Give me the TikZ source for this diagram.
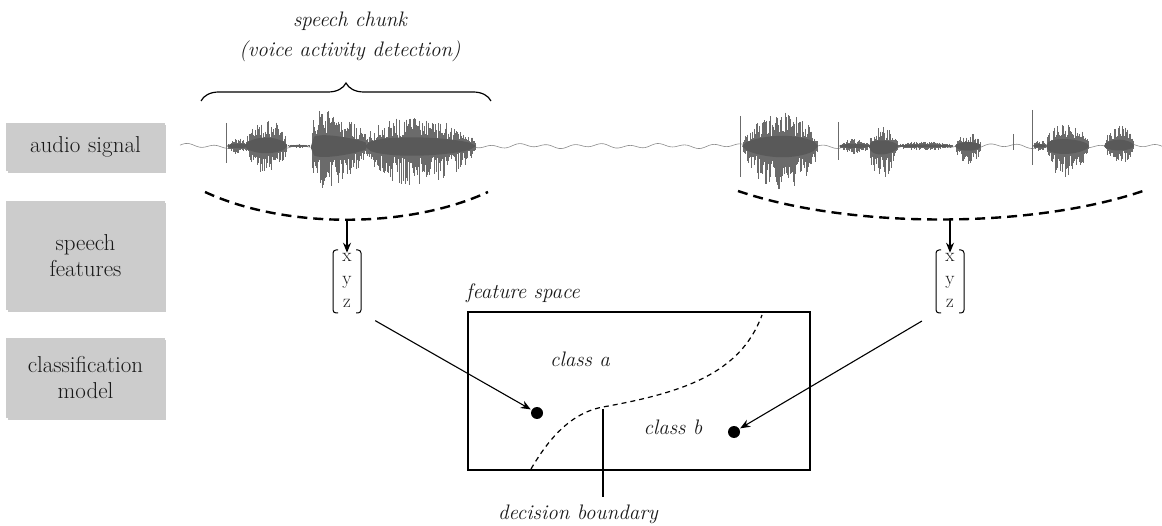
\documentclass[tikz,border=0pt]{standalone}
\usepackage{fontspec}
\usetikzlibrary{arrows.meta,shadows,calc,decorations.pathreplacing}
\newcommand\wburst[5]{%
  \pgfmathtruncatemacro\nn{(#2-#1)/1.0}%
  \foreach \i in {0,...,\nn}{%
    \pgfmathsetmacro\xx{#1+1.0*\i}%
    \pgfmathsetmacro\tt{(\i/\nn)^#5}%
    \pgfmathsetmacro\ss{sqrt(abs(sin(180*\tt)))}%
    \pgfmathsetmacro\uu{#3*\ss*(0.3+0.7*rnd)}%
    \pgfmathsetmacro\dd{#4*\ss*(0.3+0.7*rnd)}%
    \draw[wave] (\xx,146-\uu) -- (\xx,146+\dd);
  }%
  \fill[black!65] (#1,146) -- plot[domain=0:1, samples=20] ({#1+(#2-#1)*\x},{146-0.3*#3*sqrt(abs(sin(180*\x^#5)))}) -- plot[domain=1:0, samples=20] ({#1+(#2-#1)*\x},{146+0.25*#4*sqrt(abs(sin(180*\x^#5)))}) -- cycle;
}
\begin{document}
\begin{tikzpicture}[x=1pt,y=-1pt,
  sbox/.style={fill=black!20, draw=none, minimum width=155pt, text width=152pt, align=center,
    font=\fontsize{23}{26}\selectfont, text=black!90,
    drop shadow={shadow xshift=1.5pt, shadow yshift=-2pt, opacity=0.4, fill=black!50}},
  lab/.style={font=\fontsize{21}{30}\selectfont\itshape, text=black!90, align=center, inner sep=0pt},
  vec/.style={font=\fontsize{19}{23}\selectfont, align=center, inner sep=0pt, text=black!90},
  brk/.style={line width=1pt, rounded corners=3pt},
  wave/.style={line width=0.8pt, black!58},
  arc/.style={line width=2.4pt, dash pattern=on 10pt off 6pt},
  arr/.style={line width=1.1pt, -{Stealth[length=10pt,width=8pt]}},
  dot/.style={circle, fill=black, minimum size=12pt, inner sep=0pt},
  bnd/.style={line width=1.2pt, dash pattern=on 5pt off 4pt}
]
\useasboundingbox (0,0) rectangle (1162,526);

% left boxes
\node[sbox, minimum height=48pt] (as) at (85.5,147) {audio signal};
\node[sbox, minimum height=109pt] (sf) at (85.5,255.5) {speech\\features};
\node[sbox, minimum height=80pt] (cm) at (85.5,378) {classification\\model};

% brace and label
\node[lab] (chunk) at (350,37) {speech chunk\\(voice activity detection)};
\coordinate (brL) at (201,101);
\coordinate (brR) at (491,101);
\draw[line width=1.2pt, decorate, decoration={brace, amplitude=18pt}] (brL) -- (brR);

% waveform baseline
\draw[line width=0.6pt, black!45] plot[domain=180:1162, samples=400] (\x,{146+1.6*sin(\x*13)+1.0*sin(\x*5.3)});

\pgfmathsetseed{11}
% left chunk
\draw[wave] (226,123) -- (226,163);
\wburst{227}{248}{8}{9}{1}
\wburst{245}{287}{28}{29}{1}
\wburst{287}{310}{2}{2}{1}
\wburst{311}{370}{36}{44}{0.45}
\wburst{365}{476}{29}{39}{0.8}
% right chunk
\draw[wave] (740,116) -- (740,177);
\wburst{742}{818}{34}{45}{1.1}
\draw[wave] (838,122) -- (838,160);
\wburst{839}{870}{7}{8}{1}
\wburst{869}{898}{19}{34}{0.8}
\wburst{897}{953}{5}{5}{1}
\wburst{955}{981}{13}{19}{1}
\draw[wave] (1013,134) -- (1013,150);
\draw[wave] (1032,110) -- (1032,165);
\wburst{1033}{1046}{6}{6}{1}
\wburst{1046}{1089}{23}{32}{0.8}
\wburst{1104}{1134}{21}{18}{1}

% dashed arcs
\draw[arc] (205,192) .. controls (285,229) and (408,229) .. (488,192);
\draw[arc] (738,191) .. controls (850,229) and (1031,229) .. (1143,191);
\coordinate (arcA) at (347,220);
\coordinate (arcB) at (950,220);

% vectors
\node[vec] (va) at (347,280) {x\\y\\z};
\node[vec] (vb) at (950,280) {x\\y\\z};
\foreach \v in {va,vb}{
  \draw[brk] ($(\v.center)+(-9,-30)$) -- ($(\v.center)+(-14,-30)$) -- ($(\v.center)+(-14,33)$) -- ($(\v.center)+(-9,33)$);
  \draw[brk] ($(\v.center)+(9,-30)$) -- ($(\v.center)+(14,-30)$) -- ($(\v.center)+(14,33)$) -- ($(\v.center)+(9,33)$);
}
\draw[arr] (arcA) -- (va.north);
\draw[arr] (arcB) -- (vb.north);

% feature space
\node[lab, anchor=base west] (fsl) at (466,299) {feature space};
\node[draw, line width=1.3pt, minimum width=342pt, minimum height=158pt, inner sep=0pt] (fs) at (639,391) {};
\node[lab] (ca) at (580,359) {class a};
\node[lab] (cb) at (673,427) {class b};
\node[dot] (da) at (537,413) {};
\node[dot] (db) at (734,432) {};
\draw[bnd] (531,469) .. controls (548,440) and (570,413) .. (603,407) .. controls (680,393) and (740,375) .. (762,315);
\coordinate (dbp) at (603,409);
\node[lab] (dbl) at (578,514) {decision boundary};
\draw[line width=1.1pt] (dbp) -- ($(dbp |- dbl.north)+(0,-7)$);

\draw[arr, shorten <=27pt, shorten >=1pt] (va.south east) -- (da);
\draw[arr, shorten <=27pt, shorten >=1pt] (vb.south west) -- (db);
\end{tikzpicture}
\end{document}
